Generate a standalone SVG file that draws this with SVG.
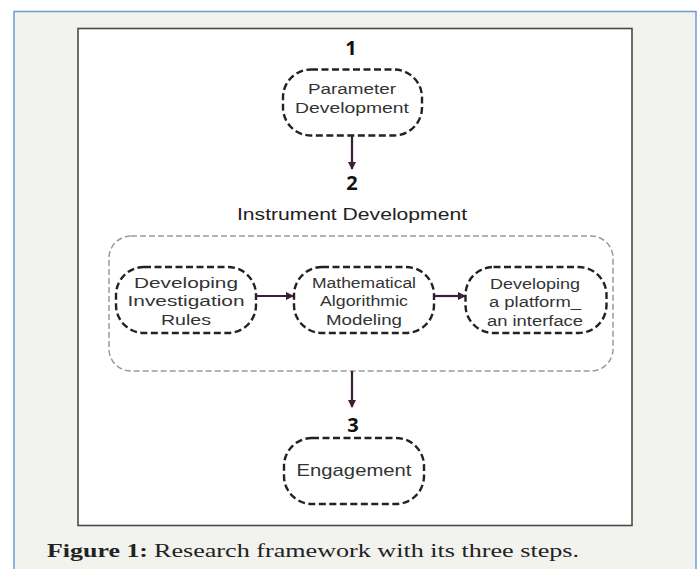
<svg xmlns="http://www.w3.org/2000/svg" width="697" height="569" viewBox="0 0 697 569">
<style>
.node{fill:#fff;stroke:#222;stroke-width:2.4;stroke-dasharray:7 3.5}
.lbl{font-family:"Liberation Sans",Arial,sans-serif;font-size:15.5px;fill:#333;text-anchor:middle}
.num{font-family:"Open Sans","Liberation Sans",sans-serif;font-size:20px;font-weight:bold;fill:#111;text-anchor:middle}
.conn{stroke:#3b1d3b;stroke-width:2.2;fill:none;marker-end:url(#ah)}
.cap{font-family:"Liberation Serif",serif;font-size:19px;fill:#222}
</style>
<defs>
<marker id="ah" markerWidth="8" markerHeight="8" refX="7" refY="4" orient="auto" markerUnits="userSpaceOnUse">
<path d="M0,0 L8,4 L0,8 Z" fill="#3b1d3b"/>
</marker>
</defs>
<rect x="0" y="0" width="697" height="569" fill="#fff"/>
<rect x="14" y="11.5" width="682" height="570" fill="#f2f2ee" stroke="#6f9ad8" stroke-width="1.5"/>
<rect x="78" y="28.5" width="554" height="497" fill="#fff" stroke="#4a4a4a" stroke-width="1.6"/>

<g id="group-instrument">
<rect x="109" y="236" width="504" height="135" rx="22" fill="none" stroke="#9a9a9a" stroke-width="1.5" stroke-dasharray="6 3"/>
<text class="lbl" x="352" y="220" font-size="17" textLength="230" lengthAdjust="spacingAndGlyphs" style="fill:#222;font-size:17px">Instrument Development</text>
</g>

<g id="step1">
<text class="num" x="351" y="55">1</text>
</g>
<g id="node-parameter">
<rect class="node" x="283" y="69.5" width="139" height="66" rx="28"/>
<text class="lbl" x="352" y="94" textLength="88" lengthAdjust="spacingAndGlyphs">Parameter</text>
<text class="lbl" x="352" y="112.5" textLength="114" lengthAdjust="spacingAndGlyphs">Development</text>
</g>
<g id="step2">
<text class="num" x="352" y="190">2</text>
</g>
<g id="node-rules">
<rect class="node" x="116" y="267" width="140" height="66" rx="28"/>
<text class="lbl" x="186" y="287.5" textLength="104" lengthAdjust="spacingAndGlyphs">Developing</text>
<text class="lbl" x="186" y="306" textLength="117" lengthAdjust="spacingAndGlyphs">Investigation</text>
<text class="lbl" x="186" y="324.5" textLength="50" lengthAdjust="spacingAndGlyphs">Rules</text>
</g>
<g id="node-math">
<rect class="node" x="294" y="267" width="140" height="66" rx="28"/>
<text class="lbl" x="364" y="287.5" textLength="104" lengthAdjust="spacingAndGlyphs">Mathematical</text>
<text class="lbl" x="364" y="306" textLength="88" lengthAdjust="spacingAndGlyphs">Algorithmic</text>
<text class="lbl" x="364" y="324.5" textLength="76" lengthAdjust="spacingAndGlyphs">Modeling</text>
</g>
<g id="node-platform">
<rect class="node" x="465.5" y="267" width="141" height="66" rx="28"/>
<text class="lbl" x="535" y="288.5" textLength="90" lengthAdjust="spacingAndGlyphs">Developing</text>
<text class="lbl" x="535" y="307" textLength="92" lengthAdjust="spacingAndGlyphs">a platform_</text>
<text class="lbl" x="535" y="325.5" textLength="96" lengthAdjust="spacingAndGlyphs">an interface</text>
</g>
<g id="step3">
<text class="num" x="353" y="432">3</text>
</g>
<g id="node-engagement">
<rect class="node" x="284" y="438" width="140" height="66" rx="28"/>
<text class="lbl" x="354" y="476" textLength="115" lengthAdjust="spacingAndGlyphs" style="font-size:17px">Engagement</text>
</g>

<g id="connectors">
<path class="conn" d="M352,136 V169"/>
<path class="conn" d="M256,296 H293"/>
<path class="conn" d="M434,296 H465"/>
<path class="conn" d="M352,371 V407"/>
</g>

<g id="caption">
<text class="cap" x="47" y="557" font-weight="bold" textLength="101" lengthAdjust="spacingAndGlyphs">Figure 1:</text>
<text class="cap" x="154" y="557" textLength="425" lengthAdjust="spacingAndGlyphs">Research framework with its three steps.</text>
</g>
</svg>
